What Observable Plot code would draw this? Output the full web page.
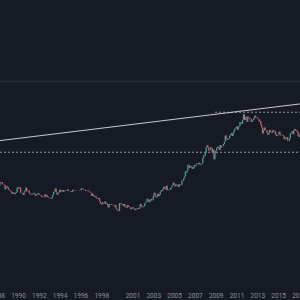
<!DOCTYPE html>
<html><head><meta charset="utf-8">
<script src="https://cdn.jsdelivr.net/npm/d3@7"></script>
<script src="https://cdn.jsdelivr.net/npm/@observablehq/plot@0.6"></script>
<style>html,body{margin:0;padding:0;background:#161a25;overflow:hidden}</style>
</head><body><div id="chart"></div>
<script>
// Monthly closes starting January 1988
const firstYear = 1988;
const closes = [
  458,426,457,451,455,437,437,431,397,412,422,410,
  394,388,383,377,362,373,368,359,367,375,409,401,
  415,407,368,367,363,352,372,387,408,380,384,386,
  366,362,355,357,361,368,362,347,354,358,366,353,
  354,353,341,337,337,343,357,340,349,339,334,333,
  330,327,337,355,377,378,402,372,355,369,370,391,
  378,381,391,376,387,388,384,385,394,383,383,383,
  375,376,392,389,385,387,383,382,383,383,387,387,
  405,400,396,392,390,382,385,386,379,379,371,369,
  345,358,349,340,345,334,326,325,332,311,296,290,
  302,297,301,308,293,296,288,273,293,292,294,288,
  287,287,280,286,268,261,255,254,299,299,291,290,
  283,293,278,275,272,288,276,278,273,264,270,274,
  266,267,258,264,268,270,266,273,293,279,275,277,
  282,297,301,309,326,318,304,312,324,316,317,347,
  368,347,335,339,361,346,354,375,388,384,398,416,
  403,396,426,388,394,395,391,408,416,429,453,438,
  422,434,428,435,417,437,429,433,473,470,495,513,
  568,556,582,654,643,613,632,623,599,604,646,632,
  650,665,662,679,659,650,665,673,743,789,783,834,
  923,971,933,871,885,930,918,833,884,730,815,869,
  919,942,916,883,975,926,955,955,995,1040,1182,1096,
  1081,1116,1113,1179,1207,1244,1169,1246,1307,1357,1385,1420,
  1333,1410,1439,1556,1536,1500,1628,1826,1620,1722,1746,1566,
  1738,1696,1668,1664,1561,1598,1622,1692,1772,1719,1711,1675,
  1664,1578,1595,1472,1393,1234,1313,1395,1327,1323,1250,1202,
  1244,1326,1284,1291,1250,1322,1282,1287,1208,1171,1182,1199,
  1279,1212,1183,1183,1190,1172,1095,1132,1114,1141,1064,1061,
  1116,1238,1232,1291,1215,1321,1350,1308,1315,1277,1173,1146,
  1210,1248
];
const tickYears = [1988,1990,1992,1994,1996,1998,2001,2003,2005,2007,2009,2011,2013,2015,2017];
const viewStart = "1988-04-09";
const viewEnd = "2017-02-06";
const supportLevel = 850;
const resistanceLevel = 1920;
const resistanceStart = "2008-12-10";
const topLevel = 3590;
const trendDates = ["1988-04-09", "2017-02-06"];
const trendPrices = [1079, 2278];

const candles = closes.map((c, i) => ({
  date: new Date(Date.UTC(firstYear, i, 15)),
  open: i ? closes[i - 1] : c,
  close: c
}));
const trend = trendDates.map((d, i) => ({date: new Date(d), price: trendPrices[i]}));
const x0 = new Date(viewStart), x1 = new Date(viewEnd);

const chart = Plot.plot({
  width: 300, height: 300,
  marginTop: 0, marginLeft: 0, marginRight: 0, marginBottom: 12,
  style: {background: "#161a25", fontFamily: "Roboto, sans-serif", fontSize: "6.5px"},
  x: {type: "utc", domain: [x0, x1]},
  y: {type: "log", domain: [53, 18700], axis: null},
  marks: [
    Plot.rect([0], {x1: x0, x2: x1, y1: topLevel, y2: 18700, fill: "#181c27"}),
    Plot.ruleY([topLevel], {stroke: "#232837", strokeWidth: 2}),
    Plot.ruleY([supportLevel], {stroke: "#b2b5be", strokeDasharray: "2,2", strokeOpacity: 0.8}),
    Plot.ruleY([resistanceLevel], {x1: new Date(resistanceStart), x2: x1, stroke: "#b2b5be", strokeDasharray: "2,2", strokeOpacity: 0.8}),
    Plot.line(trend, {x: "date", y: "price", stroke: "#c8cad2", strokeWidth: 1}),
    Plot.ruleX(candles, {x: "date", y1: "open", y2: "close",
      stroke: d => d.close >= d.open ? "#4a9a8f" : "#c0646e", strokeWidth: 1.3, clip: true}),
    Plot.axisX(tickYears.map(y => new Date(Date.UTC(y, 0, 1))), {
      tickSize: 0, tickPadding: 5, tickFormat: d3.utcFormat("%Y"), fill: "#8b8f9a", label: null
    })
  ]
});
document.getElementById("chart").append(chart);
</script></body></html>
